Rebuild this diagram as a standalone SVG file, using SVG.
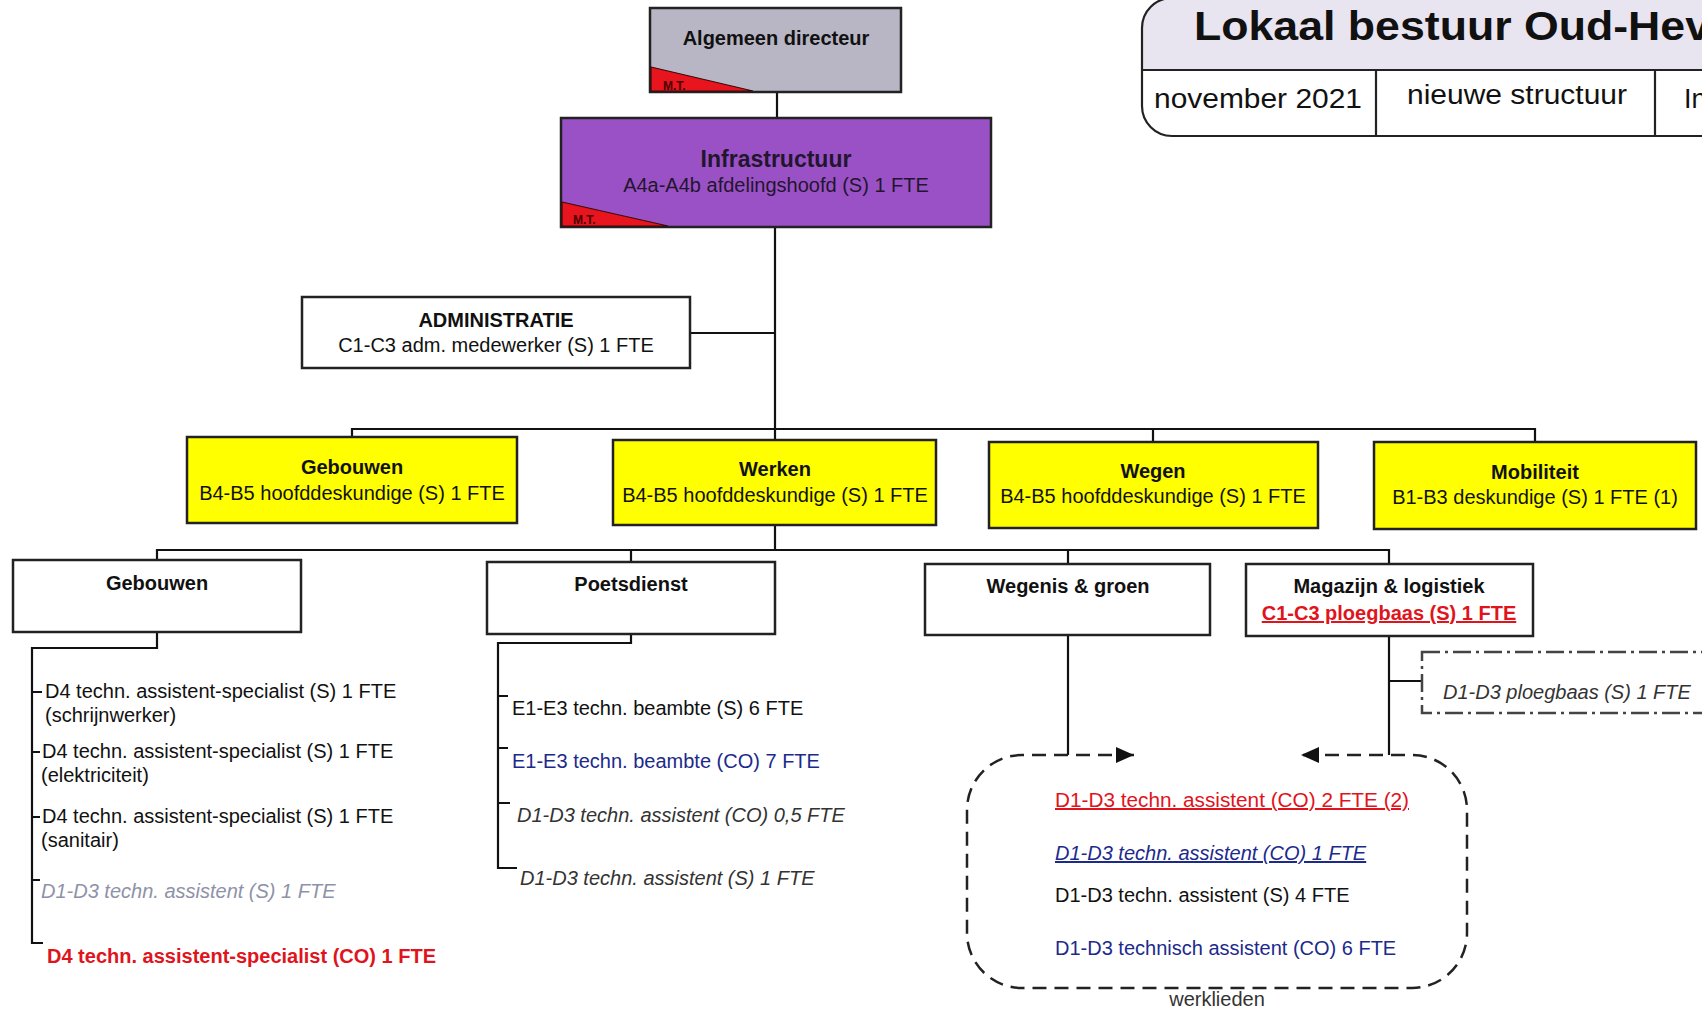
<svg xmlns="http://www.w3.org/2000/svg" width="1702" height="1011" viewBox="0 0 1702 1011">
<style>
text{font-family:"Liberation Sans",Arial,sans-serif;font-size:20px;fill:#111}
.b{font-weight:bold}
.c{text-anchor:middle}
.i{font-style:italic}
.box{stroke:#222;stroke-width:2.5}
.w{fill:#fff}
.y{fill:#ffff00}
.ln{fill:none;stroke:#111;stroke-width:2.2}
.mt{fill:#e8141e;stroke:#3a0a0a;stroke-width:1.2}
.mtt{font-size:12px;font-weight:bold;fill:#4a0000}
.blue{fill:#1c2a8c}
.red{fill:#e0141c}
.gray{fill:#8e92a8}
.dk{fill:#333}
.u{text-decoration:underline}
.dash{fill:none;stroke:#222;stroke-width:2.5;stroke-dasharray:14 8}
.dashdot{fill:#fff;stroke:#444;stroke-width:2.5;stroke-dasharray:18 5 3 5}
</style>
<defs>
<marker id="arr" markerUnits="userSpaceOnUse" markerWidth="18" markerHeight="16" refX="18" refY="8" orient="auto-start-reverse">
<path d="M0,0 L18,8 L0,16 z" fill="#111"/>
</marker>
</defs>

<g id="header">
<path d="M1702,-2 H1172 A30,30 0 0 0 1142,28 V70 H1702 Z" fill="#e9e5f0"/>
<path d="M1702,70 H1142 V106 A30,30 0 0 0 1172,136 H1702 Z" fill="#fff"/>
<path d="M1702,-2 H1172 A30,30 0 0 0 1142,28 V106 A30,30 0 0 0 1172,136 H1702 M1142,70 H1702 M1376,70 V136 M1655,70 V136" fill="none" stroke="#222" stroke-width="2.2"/>
<text class="b" x="1194" y="40" textLength="516" lengthAdjust="spacingAndGlyphs" style="font-size:40px">Lokaal bestuur Oud-Hev</text>
<text x="1154" y="108" style="font-size:27px" textLength="208" lengthAdjust="spacingAndGlyphs">november 2021</text>
<text x="1407" y="104" style="font-size:27px" textLength="220" lengthAdjust="spacingAndGlyphs">nieuwe structuur</text>
<text x="1684" y="108" style="font-size:27px">In</text>
</g>

<g id="connectors">
<path class="ln" d="M777,92 V118"/>
<path class="ln" d="M775,227 V440"/>
<path class="ln" d="M690,333 H775"/>
<path class="ln" d="M352,437 V429 H1535 V442"/>
<path class="ln" d="M1153,429 V442"/>
<path class="ln" d="M775,525 V550"/>
<path class="ln" d="M157,560 V550 H1389 V564"/>
<path class="ln" d="M631,550 V562"/>
<path class="ln" d="M1068,550 V564"/>
<path class="ln" d="M157,632 V648 H32 V943 H43"/>
<path class="ln" d="M32,692 H42 M32,752 H40 M32,817 H40 M32,880 H40"/>
<path class="ln" d="M631,634 V643 H498 V868 H517"/>
<path class="ln" d="M498,696 H508 M498,748 H508 M498,803 H510"/>
<path class="ln" d="M1068,635 V755"/>
<path class="ln" d="M1389,636 V755"/>
<path class="ln" d="M1389,681 H1422"/>
<path class="dash" d="M1134,755 H1022 A55,55 0 0 0 967,810 V933 A55,55 0 0 0 1022,988 H1412 A55,55 0 0 0 1467,933 V810 A55,55 0 0 0 1412,755 H1301" marker-start="url(#arr)" marker-end="url(#arr)"/>
</g>

<g id="n-directeur">
<rect class="box" x="650" y="8" width="251" height="84" fill="#b8b6c4"/>
<path class="mt" d="M651,67 L753,91 L651,91 Z"/>
<text class="mtt" x="663" y="90">M.T.</text>
<text class="b c" x="776" y="45">Algemeen directeur</text>
</g>

<g id="n-infrastructuur">
<rect class="box" x="561" y="118" width="430" height="109" fill="#9b51c6"/>
<path class="mt" d="M562,202 L668,226 L562,226 Z"/>
<text class="mtt" x="573" y="224">M.T.</text>
<text class="b c" x="776" y="167" style="font-size:23px;fill:#22162e">Infrastructuur</text>
<text class="c" x="776" y="192" style="fill:#22162e">A4a-A4b afdelingshoofd (S) 1 FTE</text>
</g>

<g id="n-administratie">
<rect class="box w" x="302" y="297" width="388" height="71"/>
<text class="b c" x="496" y="327">ADMINISTRATIE</text>
<text class="c" x="496" y="352">C1-C3 adm. medewerker (S) 1 FTE</text>
</g>

<g id="n-gebouwen-y">
<rect class="box y" x="187" y="437" width="330" height="86"/>
<text class="b c" x="352" y="474">Gebouwen</text>
<text class="c" x="352" y="500">B4-B5 hoofddeskundige (S) 1 FTE</text>
</g>
<g id="n-werken">
<rect class="box y" x="613" y="440" width="323" height="85"/>
<text class="b c" x="775" y="476">Werken</text>
<text class="c" x="775" y="502">B4-B5 hoofddeskundige (S) 1 FTE</text>
</g>
<g id="n-wegen">
<rect class="box y" x="989" y="442" width="329" height="86"/>
<text class="b c" x="1153" y="478">Wegen</text>
<text class="c" x="1153" y="503">B4-B5 hoofddeskundige (S) 1 FTE</text>
</g>
<g id="n-mobiliteit">
<rect class="box y" x="1374" y="442" width="322" height="87"/>
<text class="b c" x="1535" y="479">Mobiliteit</text>
<text class="c" x="1535" y="504">B1-B3 deskundige (S) 1 FTE (1)</text>
</g>

<g id="n-gebouwen">
<rect class="box w" x="13" y="560" width="288" height="72"/>
<text class="b c" x="157" y="590">Gebouwen</text>
</g>
<g id="n-poetsdienst">
<rect class="box w" x="487" y="562" width="288" height="72"/>
<text class="b c" x="631" y="591">Poetsdienst</text>
</g>
<g id="n-wegenis">
<rect class="box w" x="925" y="564" width="285" height="71"/>
<text class="b c" x="1068" y="593">Wegenis &amp; groen</text>
</g>
<g id="n-magazijn">
<rect class="box w" x="1246" y="564" width="287" height="72"/>
<text class="b c" x="1389" y="593">Magazijn &amp; logistiek</text>
<text class="b c red u" x="1389" y="620">C1-C3 ploegbaas (S) 1 FTE</text>
</g>

<g id="n-gebouwen-staff">
<text x="45" y="698">D4 techn. assistent-specialist (S) 1 FTE</text>
<text x="45" y="722">(schrijnwerker)</text>
<text x="42" y="758">D4 techn. assistent-specialist (S) 1 FTE</text>
<text x="41" y="782">(elektriciteit)</text>
<text x="42" y="823">D4 techn. assistent-specialist (S) 1 FTE</text>
<text x="41" y="847">(sanitair)</text>
<text class="i gray" x="41" y="898">D1-D3 techn. assistent (S) 1 FTE</text>
<text class="b red" x="47" y="963">D4 techn. assistent-specialist (CO) 1 FTE</text>
</g>

<g id="n-poets-staff">
<text x="512" y="715">E1-E3 techn. beambte (S) 6 FTE</text>
<text class="blue" x="512" y="768">E1-E3 techn. beambte (CO) 7 FTE</text>
<text class="i dk" x="517" y="822">D1-D3 techn. assistent (CO) 0,5 FTE</text>
<text class="i dk" x="520" y="885">D1-D3 techn. assistent (S) 1 FTE</text>
</g>

<g id="n-ploegbaas">
<rect class="dashdot" x="1422" y="652" width="300" height="61"/>
<text class="i dk" x="1443" y="699">D1-D3 ploegbaas (S) 1 FTE</text>
</g>

<g id="n-werklieden">
<text class="red u" x="1055" y="807" textLength="354" lengthAdjust="spacingAndGlyphs">D1-D3 techn. assistent (CO) 2 FTE (2)</text>
<text class="i blue u" x="1055" y="860">D1-D3 techn. assistent (CO) 1 FTE</text>
<text x="1055" y="902">D1-D3 techn. assistent (S) 4 FTE</text>
<text class="blue" x="1055" y="955">D1-D3 technisch assistent (CO) 6 FTE</text>
<text class="c dk" x="1217" y="1006">werklieden</text>
</g>
</svg>
